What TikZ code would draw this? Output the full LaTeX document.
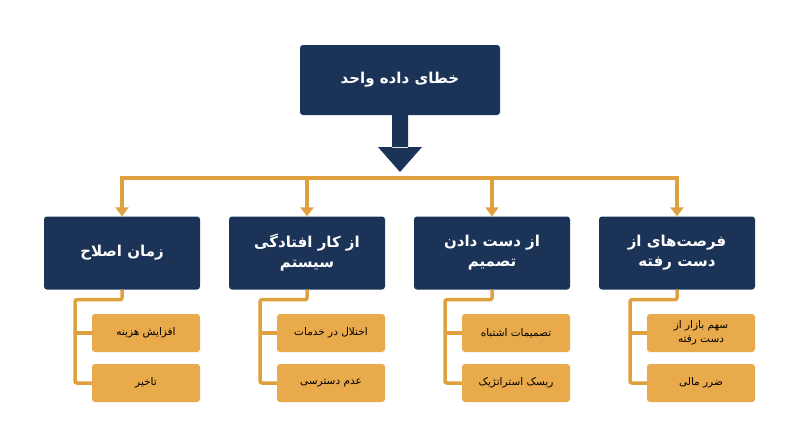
\documentclass[tikz,border=0pt]{standalone}
\usepackage{fontspec}
\usetikzlibrary{arrows.meta}
\newfontfamily\ar[Script=Arabic]{DejaVu Sans}
\TeXXeTstate=1
\newcommand{\fa}[1]{\beginR #1\endR}
\definecolor{navy}{HTML}{1C3358}
\definecolor{gold}{HTML}{DFA03E}
\definecolor{goldfill}{HTML}{E9AA4C}
\begin{document}
\begin{tikzpicture}[x=1pt,y=-1pt,
 head/.style={fill=navy,rounded corners=3pt,text=white,font=\ar\fontsize{15}{20}\selectfont\bfseries,align=center,inner sep=0pt},
 lvl/.style={head,minimum width=156pt,minimum height=73pt},
 leaf/.style={fill=goldfill,rounded corners=3pt,text=black,font=\ar\fontsize{10.5}{14}\selectfont,align=center,minimum width=108pt,inner sep=0pt},
 ln/.style={gold,line width=3.5pt},
 arr/.style={ln,-{Triangle[length=9pt,width=13pt]}}]
\useasboundingbox (0,0) rectangle (800,447);
\fill[white] (0,0) rectangle (800,447);
\node[head,minimum width=200pt,minimum height=70pt] (t) at (400,80) {\fa{خطای داده واحد}};
\coordinate (j) at (400,178);
\fill[navy] (392,115) rectangle (408,148) (378,147) -- (422,147) -- (400,172) -- cycle;
\draw[ln] (122,178) -- (677,178);
\node[lvl] (a) at (122,253) {\fa{زمان اصلاح}};
\node[lvl] (b) at (307,253) {\fa{از کار افتادگی}\\\fa{سیستم}};
\node[lvl] (c) at (492,253) {\fa{از دست دادن}\\\fa{تصمیم}};
\node[lvl] (d) at (677,253) {\fa{فرصت‌های از}\\\fa{دست رفته}};
\foreach \n/\x in {a/122,b/307,c/492,d/677}{
  \draw[arr] (\x,176.25) -- (\n.north);
}
\foreach \n/\x/\p/\q/\r in {a/75/a1/a2/146, b/260/b1/b2/331, c/445/c1/c2/516, d/630/d1/d2/701}{
  \node[leaf,minimum height=38pt] (\p) at (\r,333) {};
  \node[leaf,minimum height=38pt] (\q) at (\r,383) {};
  \draw[ln,rounded corners=2pt] (\n.south) -- ++(0,10) -| (\x,383) -- (\q.west);
  \draw[ln] (\x,333) -- (\p.west);
}
\node[font=\ar\fontsize{10.5}{14}\selectfont] at (a1) {\fa{افزایش هزینه}};
\node[font=\ar\fontsize{10.5}{14}\selectfont] at (a2) {\fa{تاخیر}};
\node[font=\ar\fontsize{10.5}{14}\selectfont] at (b1) {\fa{اختلال در خدمات}};
\node[font=\ar\fontsize{10.5}{14}\selectfont] at (b2) {\fa{عدم دسترسی}};
\node[font=\ar\fontsize{10.5}{14}\selectfont] at (c1) {\fa{تصمیمات اشتباه}};
\node[font=\ar\fontsize{10.5}{14}\selectfont] at (c2) {\fa{ریسک استراتژیک}};
\node[font=\ar\fontsize{10.5}{14}\selectfont,align=center] at (d1) {\fa{سهم بازار از}\\\fa{دست رفته}};
\node[font=\ar\fontsize{10.5}{14}\selectfont] at (d2) {\fa{ضرر مالی}};
\end{tikzpicture}
\end{document}
